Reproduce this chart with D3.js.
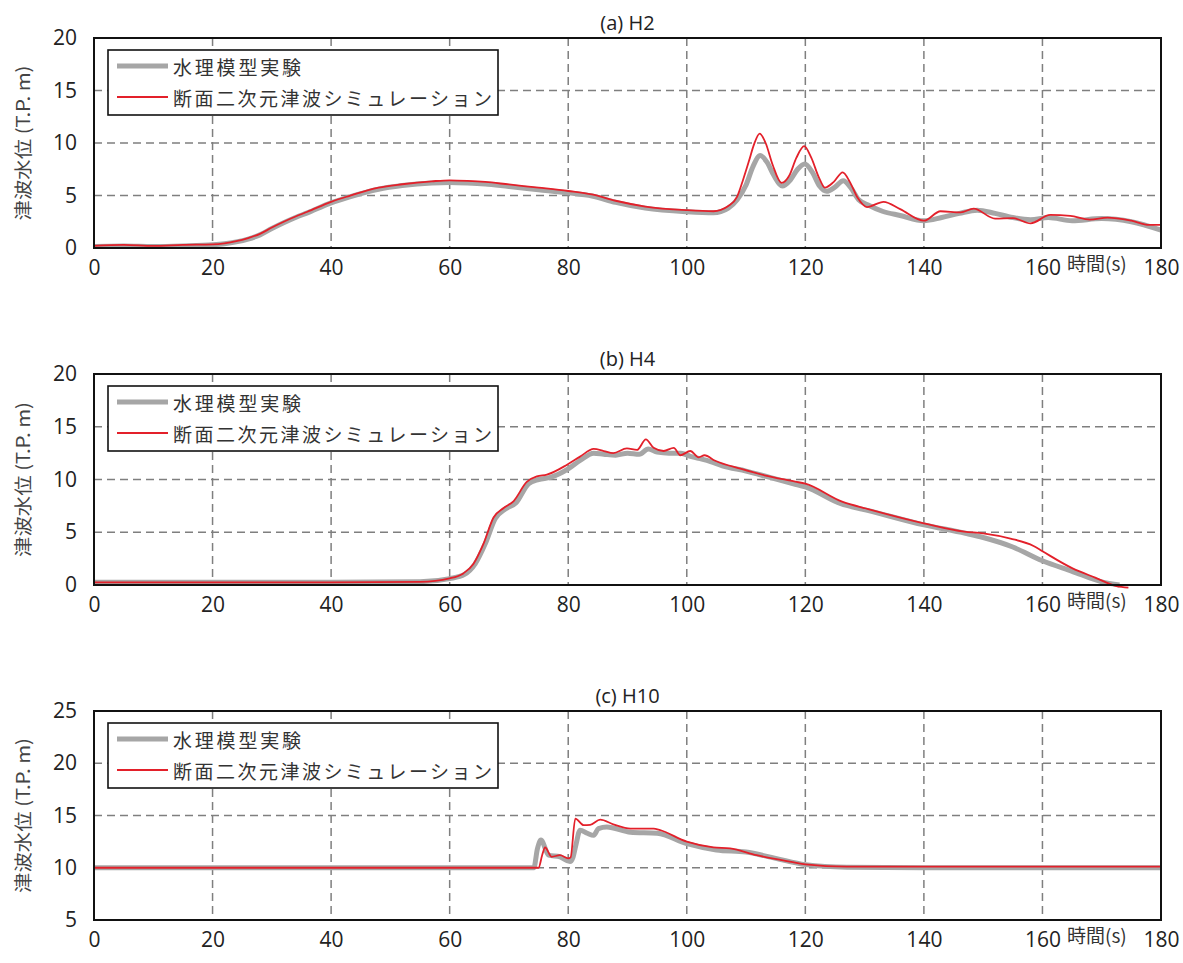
<!DOCTYPE html>
<html><head><meta charset="utf-8">
<script src="https://cdn.jsdelivr.net/npm/d3@7"></script>
<style>body{margin:0;background:#fff}svg{display:block}</style>
</head><body><svg id="c" width="1183" height="963"></svg>
<script>
// ---- data ----
const xTicks = [0,20,40,60,80,100,120,140,160,180];
const panelTitles = ["(a) H2","(b) H4","(c) H10"];
const yTicksA = [0,5,10,15,20];
const yTicksB = [0,5,10,15,20];
const yTicksC = [5,10,15,20,25];
const legendLabels = ["水理模型実験","断面二次元津波シミュレーション"];
const yTitle = "津波水位 (T.P. m)";
const xTitle = "時間(s)";

// (a) H2
const H2_exp_t = [0,5,10,15,20,22,24,26,28,30,32,34,36,40,43,48,52,57,60,63,66,70,75,80,84,88,93,100,104.5,107,108.5,110,111.2,112.4,113.5,114.7,116.1,117.5,118.7,119.9,121.2,122.4,123.6,125,126.4,127.6,129,130.6,133,136,140,143,146,149,152,155,158,161,165,170,175,180];
const H2_exp_v = [0.15,0.2,0.15,0.2,0.3,0.4,0.58,0.85,1.25,1.85,2.4,2.9,3.35,4.3,4.85,5.6,5.95,6.2,6.25,6.2,6.1,5.85,5.55,5.25,4.95,4.35,3.8,3.45,3.35,3.8,4.6,6.0,7.8,8.8,8.2,6.9,5.9,6.5,7.5,8.0,7.2,5.9,5.4,5.8,6.4,5.8,4.6,4.1,3.5,3.1,2.6,2.9,3.3,3.6,3.3,2.9,2.7,2.9,2.6,2.8,2.5,1.7];
const H2_sim_t = [0,5,10,15,20,22,24,26,28,30,32,34,36,40,43,48,52,57,60,63,66,70,75,80,84,88,93,100,104.5,107,108.5,109.5,110.5,111.3,112.3,113.3,114.5,116,117.3,118.5,119.8,121,122.3,123.3,124.8,126.3,127.5,128.8,130.4,133.2,136,140,142.8,146.2,148.4,152,155,158,161.3,164.7,168,171,175,178,180];
const H2_sim_v = [0.2,0.3,0.2,0.3,0.35,0.45,0.65,0.95,1.35,1.95,2.5,3.0,3.45,4.4,4.95,5.75,6.07,6.35,6.45,6.4,6.3,6.05,5.75,5.43,5.1,4.5,3.95,3.6,3.5,4.0,4.9,6.5,8.3,9.8,10.9,10.0,7.9,6.2,6.9,8.6,9.7,8.6,6.7,5.75,6.3,7.2,6.3,4.8,3.9,4.4,3.7,2.6,3.5,3.4,3.75,2.8,2.85,2.35,3.15,3.05,2.7,2.9,2.6,2.2,2.2];

// (b) H4
const H4_exp_t = [0,20,40,55,60,62.5,64.3,66,67.7,69.4,71.2,73.3,75,77,80,82,84.3,86,88,90,92,93.5,95,97,99,100.6,102,104,106,110,114,118,120,126,131,140,147,150,155,160,165,170,173];
const H4_exp_v = [0.25,0.25,0.25,0.3,0.6,1.0,2.0,3.9,6.3,7.2,7.8,9.6,10.0,10.2,11.0,11.8,12.5,12.4,12.3,12.5,12.4,12.9,12.6,12.5,12.5,12.2,12.0,11.7,11.3,10.8,10.2,9.6,9.3,7.7,7.0,5.7,4.9,4.5,3.6,2.3,1.3,0.3,0];
const H4_sim_t = [0,20,40,55,60,62.3,64,65.7,67.4,69.1,70.8,73,74.7,76.4,79.8,82,84.3,86,87.6,89.9,91.6,93.1,94.4,96.1,97.8,98.9,100.6,102,103,104.7,109.2,113.1,118.3,120,126.2,130.6,140,146.8,150,154.6,158.5,160,165,168.9,172.5,174.5];
const H4_sim_v = [0.25,0.25,0.25,0.3,0.63,1.1,2.0,3.9,6.4,7.3,7.96,9.77,10.3,10.46,11.4,12.17,12.9,12.7,12.5,12.95,12.8,13.8,13.0,12.7,13.0,12.3,12.7,12.1,12.3,11.8,11.0,10.4,9.8,9.6,7.9,7.2,5.85,5.06,4.9,4.4,3.7,3.2,1.6,0.7,-0.1,-0.25];

// (c) H10
const H10_exp_t = [0,74.2,74.8,75.4,76.7,78.6,80.3,80.8,81.3,82,83.2,84.3,85.1,86.5,90.5,95,100,105,110,115,120,127,140,160,180];
const H10_exp_v = [10,10,11.8,12.65,11.2,11.05,10.6,11.0,12.2,13.6,13.3,13.1,13.75,13.9,13.4,13.3,12.3,11.7,11.5,10.9,10.3,10.05,10.0,10.0,10.0];
const H10_sim_t = [0,75,75.6,76.1,77.2,78.6,80,80.4,81.2,82.6,83.7,85.4,87.6,90.5,94.4,95.5,100,104.5,107.3,111.8,115.8,120,127,140,160,180];
const H10_sim_v = [10,10,11.2,11.94,11.05,11.2,10.9,11.0,14.7,14.07,14.1,14.6,14.16,13.75,13.75,13.6,12.5,11.95,11.85,11.2,10.75,10.33,10.1,10.1,10.1,10.1];

// ---- drawing ----
const svg = d3.select("#c");
const left = 94, right = 1161;
const x = d3.scaleLinear().domain([0,180]).range([left,right]);
const GRAY = "#a6a6a6", RED = "#e3202a";
const numFont = "'Open Sans','Noto Sans',sans-serif";
const jpFont = "'Noto Sans CJK JP','Noto Sans',sans-serif";

const panels = [
  {top:38, bottom:248, dom:[0,20], ticks:yTicksA, exp:[H2_exp_t,H2_exp_v], sim:[H2_sim_t,H2_sim_v]},
  {top:374, bottom:585, dom:[0,20], ticks:yTicksB, exp:[H4_exp_t,H4_exp_v], sim:[H4_sim_t,H4_sim_v]},
  {top:711, bottom:920, dom:[5,25], ticks:yTicksC, exp:[H10_exp_t,H10_exp_v], sim:[H10_sim_t,H10_sim_v]}
];

panels.forEach((p,i)=>{
  const y = d3.scaleLinear().domain(p.dom).range([p.bottom,p.top]);
  const g = svg.append("g");
  // grid
  g.selectAll(".vg").data(xTicks.slice(1,-1)).join("line")
    .attr("x1",d=>x(d)).attr("x2",d=>x(d)).attr("y1",p.top).attr("y2",p.bottom)
    .attr("stroke","#7f7f7f").attr("stroke-width",1.5).attr("stroke-dasharray","8,5");
  g.selectAll(".hg").data(p.ticks.slice(1,-1)).join("line")
    .attr("x1",left).attr("x2",right).attr("y1",d=>y(d)).attr("y2",d=>y(d))
    .attr("stroke","#7f7f7f").attr("stroke-width",1.5).attr("stroke-dasharray","8,5");
  // axes tick labels
  const yAxis = d3.axisLeft(y).tickValues(p.ticks).tickSize(0).tickPadding(17);
  const ya = g.append("g").attr("transform",`translate(${left},0)`).call(yAxis);
  ya.select(".domain").remove();
  ya.selectAll("text").attr("font-family",numFont).attr("font-size",21).attr("fill","#222");
  const xAxis = d3.axisBottom(x).tickValues(xTicks).tickSize(0).tickPadding(12);
  const xa = g.append("g").attr("transform",`translate(0,${p.bottom})`).call(xAxis);
  xa.select(".domain").remove();
  xa.selectAll("text").attr("font-family",numFont).attr("font-size",21).attr("fill","#222");
  // lines
  const line = d3.line().x(d=>x(d[0])).y(d=>y(d[1])).curve(d3.curveMonotoneX);
  const expData = p.exp[0].map((t,k)=>[t,p.exp[1][k]]);
  const simData = p.sim[0].map((t,k)=>[t,p.sim[1][k]]);
  g.append("path").attr("d",line(expData)).attr("fill","none").attr("stroke",GRAY).attr("stroke-width",5).attr("stroke-linejoin","round");
  g.append("path").attr("d",line(simData)).attr("fill","none").attr("stroke",RED).attr("stroke-width",1.8).attr("stroke-linejoin","round");
  // frame
  g.append("rect").attr("x",left).attr("y",p.top).attr("width",right-left).attr("height",p.bottom-p.top)
    .attr("fill","none").attr("stroke","#111").attr("stroke-width",2);
  // title
  g.append("text").attr("x",(left+right)/2).attr("y",p.top-16).attr("text-anchor","middle")
    .attr("dominant-baseline","central").attr("font-family",numFont).attr("font-size",20).attr("fill","#222")
    .text(panelTitles[i]);
  // y title
  g.append("text").attr("transform",`translate(22,${(p.top+p.bottom)/2}) rotate(-90)`)
    .attr("text-anchor","middle").attr("dominant-baseline","central")
    .attr("font-family",jpFont).attr("font-size",18).attr("fill","#444")
    .attr("textLength",155).attr("lengthAdjust","spacingAndGlyphs").text(yTitle);
  // x title
  g.append("text").attr("x",1067).attr("y",p.bottom+14).attr("dominant-baseline","central")
    .attr("font-family",jpFont).attr("font-size",19).attr("fill","#333").text(xTitle);
  // legend
  const lg = g.append("g").attr("transform",`translate(108,${p.top+12})`);
  lg.append("rect").attr("width",390).attr("height",65).attr("fill","#fff").attr("stroke","#111").attr("stroke-width",1.6);
  const items = [{c:GRAY,w:5,yy:16,len:128},{c:RED,w:1.8,yy:47,len:319}];
  items.forEach((it,k)=>{
    lg.append("line").attr("x1",9).attr("x2",60).attr("y1",it.yy).attr("y2",it.yy).attr("stroke",it.c).attr("stroke-width",it.w);
    lg.append("text").attr("x",65).attr("y",it.yy).attr("dominant-baseline","central")
      .attr("font-family",jpFont).attr("font-size",19).attr("fill","#333")
      .attr("textLength",it.len).attr("lengthAdjust","spacing").text(legendLabels[k]);
  });
});
</script></body></html>
